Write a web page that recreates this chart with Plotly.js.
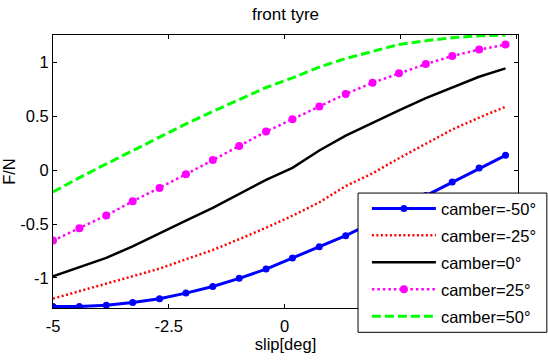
<!DOCTYPE html>
<html>
<head>
<meta charset="utf-8">
<script src="https://cdn.plot.ly/plotly-3.0.1.min.js"></script>
<style>html,body{margin:0;padding:0;background:#fff;}#chart{width:548px;height:364px;}</style>
</head>
<body>
<div id="chart"></div>
<script>
// slip angle samples [deg]
const slip = [-5, -4.43, -3.85, -3.28, -2.7, -2.13, -1.55, -0.98, -0.4, 0.17, 0.75, 1.32, 1.9, 2.47, 3.05, 3.62, 4.2, 4.77];
// F/N for each camber
const camberM50 = [-1.264, -1.264, -1.253, -1.228, -1.193, -1.141, -1.080, -1.004, -0.918, -0.815, -0.712, -0.608, -0.487, -0.362, -0.236, -0.110, 0.019, 0.137];
const camberM25 = [-1.192, -1.124, -1.058, -0.989, -0.914, -0.827, -0.741, -0.641, -0.535, -0.423, -0.299, -0.148, -0.030, 0.110, 0.246, 0.376, 0.487, 0.587];
const camber0   = [-0.985, -0.900, -0.814, -0.708, -0.591, -0.469, -0.351, -0.220, -0.090, 0.021, 0.182, 0.320, 0.440, 0.555, 0.668, 0.767, 0.866, 0.944];
const camber25  = [-0.654, -0.540, -0.420, -0.290, -0.166, -0.039, 0.093, 0.223, 0.357, 0.472, 0.590, 0.706, 0.810, 0.898, 0.983, 1.058, 1.118, 1.164];
const camber50  = [-0.203, -0.070, 0.057, 0.182, 0.305, 0.428, 0.544, 0.657, 0.766, 0.856, 0.955, 1.035, 1.100, 1.165, 1.200, 1.228, 1.245, 1.252];
const seriesNames = ['camber=-50°', 'camber=-25°', 'camber=0°', 'camber=25°', 'camber=50°'];
// the labels at 2.5 and 5 sit under the legend box in the reference
const xTickVals = [-5, -2.5, 0, 2.5, 5];
const xTickText = ['-5', '-2.5', '0', '2.5', ''];
const yTickVals = [-1, -0.5, 0, 0.5, 1];
const yTickText = ['-1', '-0.5', '0', '0.5', '1'];

const FONT = 'Liberation Sans, Arial, sans-serif';

const traces = [
  {x: slip, y: camberM50, name: seriesNames[0], legendgroup: 'a', mode: 'lines+markers',
   line: {color: '#0000ff', width: 3}, marker: {color: '#0000ff', size: 7}},
  {x: slip, y: camberM25, name: seriesNames[1], legendgroup: 'b', mode: 'lines',
   line: {color: '#ff0000', width: 2.5, dash: '2px,2.5px'}},
  {x: slip, y: camber0, name: seriesNames[2], legendgroup: 'c', mode: 'lines',
   line: {color: '#000000', width: 2.5}},
  {x: slip, y: camber25, name: seriesNames[3], legendgroup: 'd', mode: 'lines+markers',
   line: {color: '#ff00ff', width: 2.5, dash: '2.5px,3px'}, marker: {color: '#ff00ff', size: 8}},
  {x: slip, y: camber50, name: seriesNames[4], legendgroup: 'e', mode: 'lines',
   line: {color: '#00ff00', width: 3, dash: '9px,4px'}}
];

const axisCommon = {
  showline: true, linecolor: '#000', linewidth: 1, mirror: 'ticks',
  ticks: 'inside', ticklen: 4, tickcolor: '#000', tickwidth: 1,
  showgrid: false, zeroline: false,
  tickfont: {family: FONT, size: 16.5, color: '#000'}
};

const layout = {
  width: 548, height: 364,
  paper_bgcolor: '#fff', plot_bgcolor: '#fff',
  margin: {l: 53, r: 30, t: 35, b: 56, pad: 0, autoexpand: false},
  font: {family: FONT, size: 16.5, color: '#000'},
  title: {text: 'front tyre', font: {family: FONT, size: 17, color: '#000'},
          x: 0.5, xref: 'paper', y: 0.962, yanchor: 'middle'},
  xaxis: Object.assign({}, axisCommon, {
    range: [-5, 5.04], tickmode: 'array', tickvals: xTickVals, ticktext: xTickText,
    ticklabelstandoff: 3,
    title: {text: 'slip[deg]', font: {family: FONT, size: 16.5, color: '#000'}, standoff: 4}
  }),
  yaxis: Object.assign({}, axisCommon, {
    range: [-1.279, 1.253], tickmode: 'array', tickvals: yTickVals, ticktext: yTickText,
    title: {text: 'F/N', font: {family: FONT, size: 16.5, color: '#000'}, standoff: 0}
  }),
  showlegend: true,
  legend: {
    x: 0.675, y: 0.428, xanchor: 'left', yanchor: 'top',
    bgcolor: 'rgba(0,0,0,0)', borderwidth: 0,
    font: {family: FONT, size: 16.5, color: '#000'},
    traceorder: 'grouped', tracegroupgap: 2.5, itemwidth: 64
  },
  shapes: [{
    type: 'rect', xref: 'paper', yref: 'paper', layer: 'above',
    x0: 0.656, x1: 1.062, y0: -0.089, y1: 0.421,
    fillcolor: '#fff', line: {color: '#000', width: 1}
  }]
};

Plotly.newPlot('chart', traces, layout, {displayModeBar: false, staticPlot: true});
</script>
</body>
</html>
